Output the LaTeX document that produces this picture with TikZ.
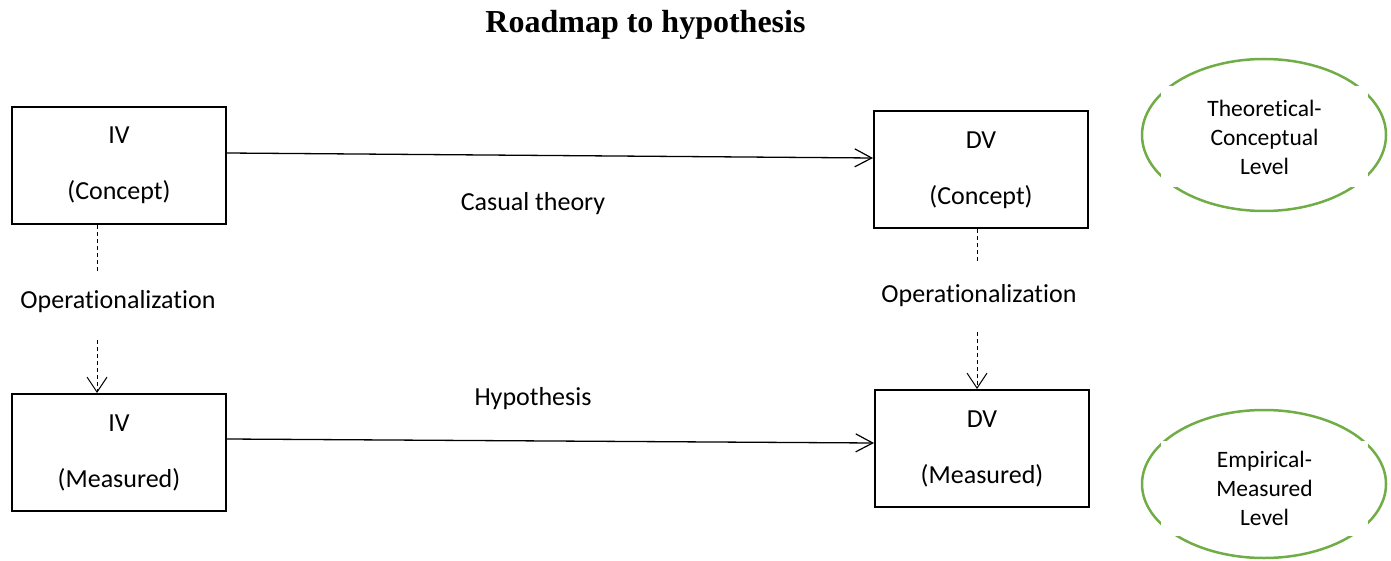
\documentclass[tikz,border=0pt]{standalone}
\usepackage{fontspec}
\setmainfont{Carlito}[Ligatures={NoCommon}]
\newfontfamily\titlefont{Liberation Serif}
\usetikzlibrary{arrows.meta,shapes.geometric}

\definecolor{levelgreen}{RGB}{112,173,71}

\begin{document}
\begin{tikzpicture}[x=1pt,y=-1pt,
  varbox/.style={draw,line width=2pt,minimum width=214pt,minimum height=117pt,
    inner sep=0pt,align=center,font=\fontsize{26}{31}\selectfont},
  lbl/.style={font=\fontsize{26}{31}\selectfont,inner sep=0pt,anchor=base},
  flow/.style={line width=1.3pt,-{Straight Barb[length=17pt,width=18pt,line width=1.2pt]}},
  opline/.style={line width=1pt,dash pattern=on 4pt off 3pt},
  optip/.style={-{Straight Barb[length=15pt,width=20pt,line width=1pt]}},
  levelring/.style={draw=levelgreen,line width=2.5pt,ellipse,inner sep=0pt},
  leveltext/.style={fill=white,inner sep=0pt,align=center,
    font=\fontsize{23.5}{29}\selectfont}
]
\useasboundingbox (0,0) rectangle (1391,561);

% title
\node[font=\titlefont\bfseries\fontsize{32}{38}\selectfont,anchor=base,inner sep=0pt]
  (title) at (645.5,33) {Roadmap to hypothesis};

% variable boxes
\node[varbox] (ivc) at (119,165.5) {IV\\[25pt](Concept)};
\node[varbox] (ivm) at (119,452.5) {IV\\[25pt](Measured)};
\node[varbox] (dvc) at (981,170) {DV\\[25pt](Concept)};
\node[varbox] (dvm) at (982,448.5) {DV\\[25pt](Measured)};

% causal links
\draw[flow] ([yshift=12.5pt]ivc.east) -- ([yshift=12pt]dvc.west);
\draw[flow] ([yshift=13.5pt]ivm.east) -- ([yshift=5.5pt]dvm.west);
\node[lbl] (theory) at (533,211) {Casual theory};
\node[lbl] (hypo) at (533,405) {Hypothesis};

% operationalization, independent variable
\coordinate (ivstop) at (97,272);
\coordinate (ivstart) at (97,340);
\draw[opline] (ivc.south -| ivstop) -- (ivstop);
\node[lbl] (ivop) at (118,308) {Operationalization};
\draw[opline,optip] (ivstart) -- (ivstart |- ivm.north);

% operationalization, dependent variable
\coordinate (dvstop) at (977,262);
\coordinate (dvstart) at (977,332);
\draw[opline] (dvc.south -| dvstop) -- (dvstop);
\node[lbl] (dvop) at (979,302) {Operationalization};
\draw[opline,optip] (dvstart) -- (dvstart |- dvm.north);

% levels
\node[levelring,minimum width=244pt,minimum height=152pt] (toplevel) at (1264,135) {};
\node[leveltext,minimum width=207pt,minimum height=101pt] (toptext) at (1264.5,137)
  {Theoretical-\\Conceptual\\Level};
\node[levelring,minimum width=244pt,minimum height=148pt] (botlevel) at (1264,484) {};
\node[leveltext,minimum width=207pt,minimum height=95pt] (bottext) at (1264.5,488.5)
  {Empirical-\\Measured\\Level};
\end{tikzpicture}
\end{document}
